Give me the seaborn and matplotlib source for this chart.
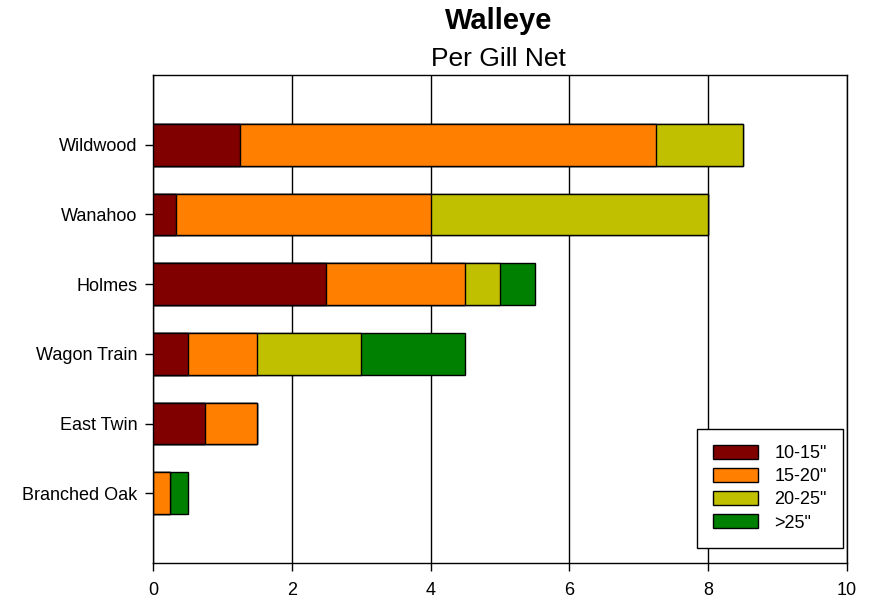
import numpy as np
import pandas as pd
import matplotlib
matplotlib.use('Agg')
import matplotlib.pyplot as plt
import seaborn as sns
from matplotlib.patches import Patch

lakes = ['Wildwood', 'Wanahoo', 'Holmes', 'Wagon Train', 'East Twin', 'Branched Oak']
sizes = ['10-15"', '15-20"', '20-25"', '>25"']
s10_15 = [1.25, 0.33, 2.5, 0.5, 0.75, 0.0]
s15_20 = [6.0, 3.67, 2.0, 1.0, 0.75, 0.25]
s20_25 = [1.25, 4.0, 0.5, 1.5, 0.0, 0.0]
s25_up = [0.0, 0.0, 0.5, 1.5, 0.0, 0.25]
colors = ['#800000', '#ff8000', '#c0c000', '#008000']

sns.set_style('white')
plt.rcParams['font.family'] = ['Liberation Sans', 'DejaVu Sans']
plt.rcParams['text.color'] = 'black'
plt.rcParams['xtick.color'] = 'black'
plt.rcParams['ytick.color'] = 'black'

df = pd.DataFrame({'lake': lakes, sizes[0]: s10_15, sizes[1]: s15_20,
                   sizes[2]: s20_25, sizes[3]: s25_up})
cum = df[sizes].cumsum(axis=1)

fig = plt.figure(figsize=(8.69, 6), dpi=100)
ax = fig.add_axes([0.176, 0.0617, 0.7987, 0.8133])

# draw cumulative totals from the outermost segment inward
for i in range(len(sizes) - 1, -1, -1):
    sns.barplot(x=cum[sizes[i]], y=df['lake'], order=lakes, orient='h',
                color=colors[i], saturation=1, width=0.6,
                edgecolor='black', linewidth=1, ax=ax, zorder=3)

ax.set_xlim(0, 10)
ax.set_ylim(6, -1)
ax.set_xticks(range(0, 11, 2))
ax.set_xlabel('')
ax.set_ylabel('')
ax.tick_params(axis='both', direction='out', length=6, width=1, color='black',
               labelsize=13, labelcolor='black', bottom=True, left=True)
ax.tick_params(axis='y', pad=5)
ax.tick_params(axis='x', pad=8)
ax.grid(axis='x', color='black', linewidth=1, zorder=0)
ax.grid(axis='y', visible=False)
ax.set_axisbelow(True)
for sp in ax.spines.values():
    sp.set_color('black')
    sp.set_linewidth(1)

handles = [Patch(facecolor=c, edgecolor='black', linewidth=1, label=s)
           for c, s in zip(colors, sizes)]
leg = ax.legend(handles=handles, loc='lower right', fontsize=13,
                handlelength=2.5, handleheight=0.8, frameon=True,
                fancybox=False, edgecolor='black', framealpha=1,
                borderpad=0.9, labelspacing=0.33, handletextpad=0.9,
                borderaxespad=0, bbox_to_anchor=(0.994, 0.031))
leg.get_frame().set_linewidth(1)

fig.text(0.574, 0.965, 'Walleye', ha='center', va='center', fontsize=21,
         fontweight='bold')
fig.text(0.574, 0.902, 'Per Gill Net', ha='center', va='center', fontsize=19)

plt.savefig('out.png', dpi=100)
plt.close()
